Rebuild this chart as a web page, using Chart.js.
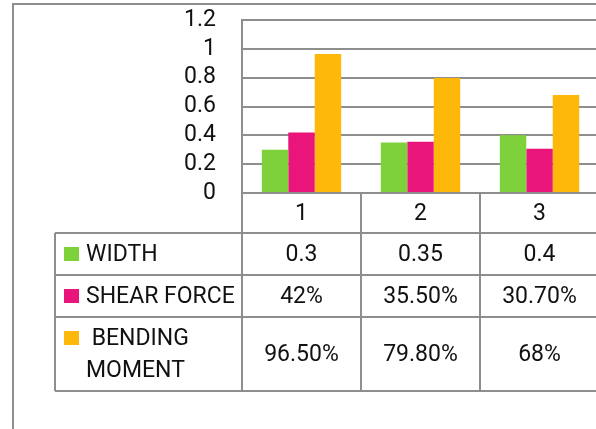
<!DOCTYPE html>
<html>
<head>
<meta charset="utf-8">
<script src="https://cdn.jsdelivr.net/npm/chart.js@4.4.1/dist/chart.umd.min.js"></script>
<style>
  html, body { margin: 0; padding: 0; background: #ffffff; overflow: hidden; }
  #wrap { position: relative; width: 596px; height: 429px; overflow: hidden; }
  canvas { position: absolute; left: 0; top: 0; }
</style>
</head>
<body>
<div id="wrap"><canvas id="c" width="620" height="429"></canvas></div>
<script>
// ---- data ----
const categories = ['1', '2', '3'];
const seriesNames = ['WIDTH', 'SHEAR FORCE', 'BENDING MOMENT'];
const widthValues = [0.3, 0.35, 0.4];
const shearForceValues = [0.42, 0.355, 0.307];
const bendingMomentValues = [0.965, 0.798, 0.68];
const widthLabels = ['0.3', '0.35', '0.4'];
const shearForceLabels = ['42%', '35.50%', '30.70%'];
const bendingMomentLabels = ['96.50%', '79.80%', '68%'];
const seriesColors = ['#7fd13b', '#ea157a', '#feb80a'];

const FONT = 'Roboto, "Liberation Sans", Arial, sans-serif';
const FONT_SIZE = 23;
const LINE = '#8e8e8e';
const TEXT = '#111111';

// table layout (pixels)
const tableLayout = {
  tableLeft: 55,
  rowEdges: [193, 233, 275, 317, 391], // category row, then one row per series
  legendSwatchX: 64,
  legendTextX: 86,
  swatch: 14
};

const tableRows = [
  { name: [seriesNames[0]], labels: widthLabels, color: seriesColors[0] },
  { name: [seriesNames[1]], labels: shearForceLabels, color: seriesColors[1] },
  { name: [' BENDING', 'MOMENT'], labels: bendingMomentLabels, color: seriesColors[2] }
];

const framePlugin = {
  id: 'frame',
  beforeDraw(chart) {
    const ctx = chart.ctx;
    ctx.save();
    ctx.strokeStyle = LINE;
    ctx.lineWidth = 2;
    ctx.beginPath();
    ctx.moveTo(13, 440);
    ctx.lineTo(13, 4);
    ctx.lineTo(chart.width + 10, 4);
    ctx.stroke();
    ctx.restore();
  }
};

const tablePlugin = {
  id: 'dataTable',
  afterDraw(chart) {
    const ctx = chart.ctx;
    const xs = chart.scales.x;
    const n = categories.length;
    const cw = (xs.right - xs.left) / n;
    const edges = tableLayout.rowEdges;
    const right = chart.width + 10;
    ctx.save();
    ctx.strokeStyle = LINE;
    ctx.lineWidth = 2;
    ctx.beginPath();
    for (let r = 1; r < edges.length; r++) {
      ctx.moveTo(tableLayout.tableLeft, edges[r]);
      ctx.lineTo(right, edges[r]);
    }
    ctx.moveTo(tableLayout.tableLeft, edges[1]);
    ctx.lineTo(tableLayout.tableLeft, edges[edges.length - 1]);
    for (let i = 0; i <= n; i++) {
      const x = Math.round(xs.getPixelForValue(i) - cw / 2);
      ctx.moveTo(x, edges[0]);
      ctx.lineTo(x, edges[edges.length - 1]);
    }
    ctx.stroke();

    ctx.fillStyle = TEXT;
    ctx.font = FONT_SIZE + 'px ' + FONT;
    ctx.textBaseline = 'middle';
    ctx.textAlign = 'center';
    categories.forEach((c, i) => {
      ctx.fillText(c, xs.getPixelForValue(i), (edges[0] + edges[1]) / 2 + 1);
    });
    tableRows.forEach((row, r) => {
      const top = edges[r + 1], bot = edges[r + 2];
      const mid = (top + bot) / 2;
      ctx.textAlign = 'center';
      row.labels.forEach((t, i) => {
        ctx.fillText(t, xs.getPixelForValue(i), mid + 1);
      });
      const lines = row.name;
      const lh = 32;
      const firstY = mid - (lines.length - 1) * lh / 2;
      ctx.fillStyle = row.color;
      const sw = tableLayout.swatch;
      ctx.fillRect(tableLayout.legendSwatchX, firstY - sw / 2, sw + 1, sw);
      ctx.fillStyle = TEXT;
      ctx.textAlign = 'left';
      lines.forEach((ln, k) => {
        ctx.fillText(ln, tableLayout.legendTextX, firstY + k * lh + 1);
      });
    });
    ctx.restore();
  }
};

new Chart(document.getElementById('c'), {
  type: 'bar',
  data: {
    labels: categories,
    datasets: [
      { label: seriesNames[0], data: widthValues, backgroundColor: seriesColors[0] },
      { label: seriesNames[1], data: shearForceValues, backgroundColor: seriesColors[1] },
      { label: seriesNames[2], data: bendingMomentValues, backgroundColor: seriesColors[2] }
    ]
  },
  options: {
    responsive: false,
    animation: false,
    devicePixelRatio: 1,
    layout: { padding: { left: 0, top: 20, right: 21, bottom: 236 } },
    datasets: { bar: { categoryPercentage: 0.667, barPercentage: 1.0, borderWidth: 0 } },
    plugins: { legend: { display: false }, tooltip: { enabled: false }, title: { display: false } },
    scales: {
      x: { display: false, offset: true },
      y: {
        min: 0, max: 1.2,
        afterFit(scale) { scale.width = 242; scale.paddingTop = 0; scale.paddingBottom = 0; },
        border: { display: true, color: LINE, width: 2 },
        grid: { color: LINE, lineWidth: 2, drawTicks: false },
        ticks: {
          stepSize: 0.2,
          autoSkip: false,
          padding: 26,
          color: TEXT,
          font: { family: FONT, size: FONT_SIZE },
          callback: (v) => String(Number(v.toFixed(1)))
        }
      }
    }
  },
  plugins: [framePlugin, tablePlugin]
});
</script>
</body>
</html>
